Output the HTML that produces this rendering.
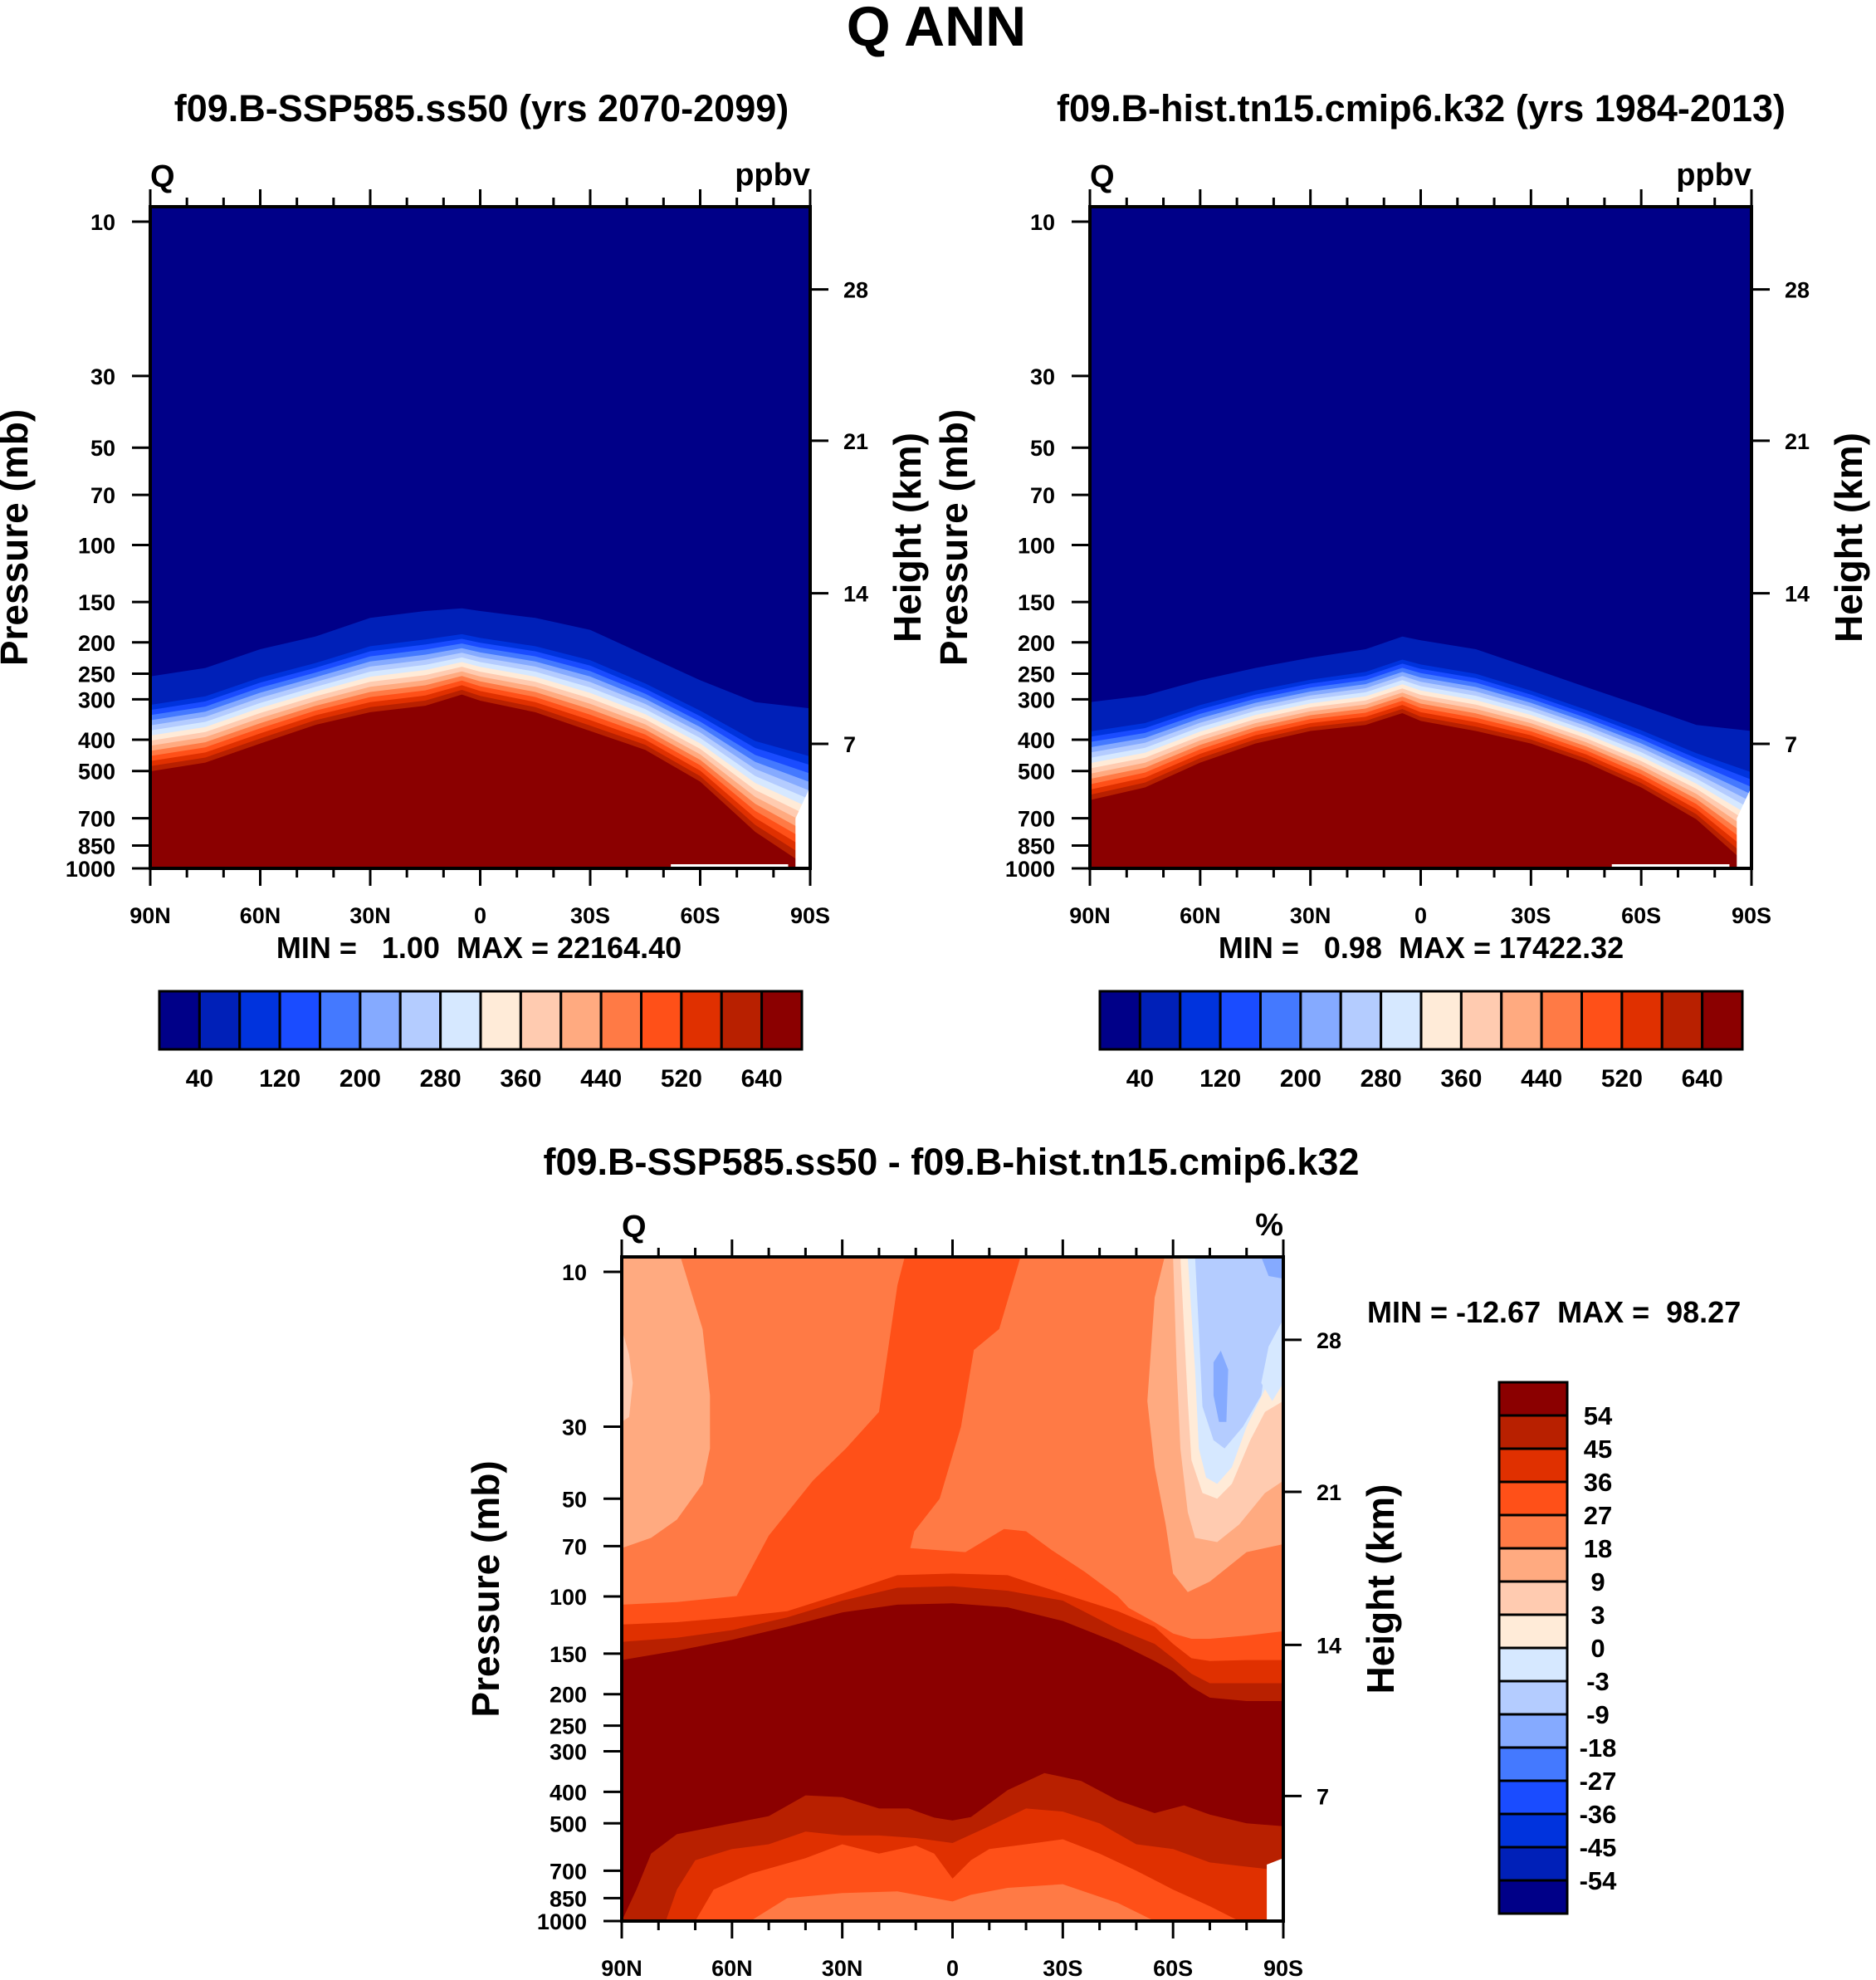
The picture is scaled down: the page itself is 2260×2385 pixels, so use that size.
<!DOCTYPE html>
<html><head><meta charset="utf-8"><style>
html,body{margin:0;padding:0;background:#fff;}
svg{display:block;font-family:"Liberation Sans",sans-serif;font-weight:bold;}
.pre{white-space:pre;}
</style></head><body>
<svg id="root" width="2260" height="2385" viewBox="0 0 2260 2385" xmlns="http://www.w3.org/2000/svg">
<defs>
<clipPath id="clipTL"><rect x="181" y="249" width="795" height="797"/></clipPath>
<clipPath id="clipTR"><rect x="1313" y="249" width="797" height="797"/></clipPath>
<clipPath id="clipB"><rect x="749" y="1514" width="797" height="800"/></clipPath>
</defs>
<text x="1128" y="55" font-size="68" text-anchor="middle">Q ANN</text>
</svg>
<script>
// ---- data ----
const levelColors = ["#000088","#0020b8","#0033dd","#1a4cff","#4479ff","#85aaff","#b4ccff","#d6e8ff","#ffebd8","#ffcbb0","#ffaa80","#ff7a45","#ff5018","#e03000","#b82000","#8b0000"];
const topCbarLabels = ["40","120","200","280","360","440","520","640"];
const diffCbarLabels = ["54","45","36","27","18","9","3","0","-3","-9","-18","-27","-36","-45","-54"];
const pressureTicks = [10,30,50,70,100,150,200,250,300,400,500,700,850,1000];
const heightTickLabels = ["7","14","21","28"];
const heightTickPressures = [412,141,47.6,16.2];
const latTicks = [90,60,30,0,-30,-60,-90];
const latTickLabels = ["90N","60N","30N","0","30S","60S","90S"];
// top panels: lat grid, pressure where the darkest blue ends, and where dark red begins
const lats = [90,75,60,45,30,15,5,0,-15,-30,-45,-60,-75,-90];
const sspNavyBottom = [255,240,210,192,168,160,157,160,168,183,219,262,306,320];
const sspRedTop = [501,471,411,360,329,314,290,303,329,376,430,539,771,1000];
const histNavyBottom = [306,292,262,240,223,210,192,197,210,240,275,314,360,376];
const histRedTop = [615,562,471,411,376,360,331,350,376,411,471,562,705,1000];
// difference panel: layer boundaries [lat, p]
const dLats = [90,75,60,45,30,15,0,-15,-30,-45,-55,-60,-65,-70,-80,-90];
const d13Top = [106,104,100,96,88,77,77,70,88,104,120,130,135,135,132,128];
const d14Top = [122,120,116,111,98,86,85,86,98,111,124,140,155,158,157,157];
const d15Top = [138,134,127,116,103,94,93,96,103,126,140,155,173,185,185,185];
const d16Top = [157,147,136,124,112,106,105,108,119,139,158,170,190,205,210,210];
const d13Column = [[13,9],[-18.5,9],[-12.7,15],[-5.8,17.4],[-2.3,30],[3.5,50],[10.4,63],[11.5,71],[-3.5,73],[-14,62],[-20,63],[-27,72],[-36,84],[-45,100],[-50,115],[-30,112],[20,95],[58.8,100],[50,65],[38,44],[29,35],[20,27],[15,11]];
const d16Bottom = [[90,1000],[86,800],[82,620],[75,540],[60,500],[50,475],[40,410],[30,415],[20,450],[12,450],[5,480],[0,490],[-5,478],[-15,395],[-25,350],[-35,370],[-45,425],[-55,465],[-63,440],[-70,470],[-80,500],[-90,510]];
const d15Bottom = [[78,1000],[75,800],[70,650],[60,600],[50,580],[40,530],[30,545],[20,545],[10,555],[0,575],[-10,510],[-20,450],[-30,460],[-40,500],[-50,580],[-60,600],[-70,660],[-80,680],[-90,700]];
const d14Bottom = [[70,1000],[65,800],[55,715],[40,640],[30,580],[20,620],[10,585],[5,620],[0,740],[-5,650],[-10,600],[-20,580],[-30,560],[-40,620],[-50,700],[-60,800],[-70,900],[-78,1000]];
const d13Bottom = [[55,1000],[45,850],[30,820],[15,810],[5,850],[0,870],[-5,830],[-15,790],[-30,770],[-45,880],[-55,1000]];
const d11Right = [[-57.7,9],[-90,9],[-90,69],[-80,73],[-70,90],[-64,97],[-60,85],[-58,60],[-55,40],[-53,25],[-55,12]];
const d10Right = [[-60,9],[-90,9],[-90,44],[-85,48],[-78,60],[-72,68],[-66,66],[-64,55],[-62,35],[-61,20]];
const d9Right = [[-62,9],[-90,9],[-90,25],[-85,27],[-81,33],[-76,45],[-72,50],[-68,48],[-65,38],[-64,25],[-63,15]];
const d8Right = [[-64,9],[-90,9],[-90,19],[-85,23],[-80,30],[-76,40],[-72,45],[-69,43],[-67,35],[-66,20]];
const d7Right = [[-66,9],[-90,9],[-90,14],[-86,17],[-84,24],[-79,30],[-74,35],[-71,33],[-68,26],[-67,15]];
const d8Patch = [[-90,14],[-86,17],[-84,22],[-87,25],[-90,22]];
const d6Spot = [[-71,19],[-73,17.5],[-75,20],[-74.5,29],[-72.5,29],[-71,24]];
const d6Corner = [[-84,9],[-90,9],[-90,10.5],[-86,10.3]];

const NS = "http://www.w3.org/2000/svg";
const root = document.getElementById("root");
function mk(tag, attrs, parent){ const e=document.createElementNS(NS,tag); for(const k in attrs) e.setAttribute(k,attrs[k]); (parent||root).appendChild(e); return e; }

function makeAxes(x0,x1,yTop,yp10,y1000){
  return {
    x: lat => x0 + (90-lat)/180*(x1-x0),
    y: p => yp10 + (Math.log10(p)-1)/2*(y1000-yp10),
    x0:x0,x1:x1,yTop:yTop,yBot:y1000
  };
}
function ptsStr(ax, pts){ return pts.map(q=>ax.x(q[0]).toFixed(1)+","+ax.y(q[1]).toFixed(1)).join(" "); }

function drawFrame(ax, g, unit, label){
  const f = mk("rect",{x:ax.x0,y:ax.yTop,width:ax.x1-ax.x0,height:ax.yBot-ax.yTop,fill:"none",stroke:"#000","stroke-width":4},g);
  
  
  for(let lat=90; lat>=-90; lat-=10){
    const major = (lat%30===0);
    const xx = ax.x(lat);
    const tt = mk("line",{x1:xx,x2:xx,y1:ax.yTop,y2:ax.yTop-(major?21:11),stroke:"#000","stroke-width":3},g);
    
    
    const tb = mk("line",{x1:xx,x2:xx,y1:ax.yBot,y2:ax.yBot+(major?21:11),stroke:"#000","stroke-width":3},g);
    
    
  }
  latTicks.forEach((lat,i)=>{
    const t = mk("text",{x:ax.x(lat),y:ax.yBot+66,"font-size":27,"text-anchor":"middle"},g);
    t.textContent = latTickLabels[i];
    
    
  });
  pressureTicks.forEach(p=>{
    const yy = ax.y(p);
    const l = mk("line",{x1:ax.x0,x2:ax.x0-22,y1:yy,y2:yy,stroke:"#000","stroke-width":3},g);
    
    
    const t = mk("text",{x:ax.x0-42,y:yy+10,"font-size":27,"text-anchor":"end"},g);
    t.textContent = String(p);
    
    
  });
  heightTickPressures.forEach((p,i)=>{
    const yy = ax.y(p);
    const l = mk("line",{x1:ax.x1,x2:ax.x1+22,y1:yy,y2:yy,stroke:"#000","stroke-width":3},g);
    
    
    const t = mk("text",{x:ax.x1+40,y:yy+10,"font-size":27},g);
    t.textContent = heightTickLabels[i];
    
    
  });
  const q = mk("text",{x:ax.x0,y:ax.yTop-24,"font-size":38},g);
  q.textContent = label;
  
  
  const u = mk("text",{x:ax.x1,y:ax.yTop-26,"font-size":38,"text-anchor":"end"},g);
  u.textContent = unit;
  
  
  const yc = (ax.yTop+ax.yBot)/2;
  const pl = mk("text",{x:0,y:0,"font-size":46,"text-anchor":"middle",transform:`translate(${ax.x0-148},${yc}) rotate(-90)`},g);
  pl.textContent = "Pressure (mb)";
  
  
  const hl = mk("text",{x:0,y:0,"font-size":46,"text-anchor":"middle",transform:`translate(${ax.x1+133},${yc}) rotate(-90)`},g);
  hl.textContent = "Height (km)";
  
  
}

function drawTopPanel(ax, clipId, navyBottom, redTop, name){
  const g = mk("g",{"clip-path":`url(#${clipId})`});
  
  
  const bg = mk("rect",{x:ax.x0,y:ax.yTop-5,width:ax.x1-ax.x0,height:ax.yBot-ax.yTop+10,fill:levelColors[0]},g);
  
  
  for(let k=1;k<=15;k++){
    const f = k===1?0:0.3+(k-2)/13*0.7;
    const pts = lats.map((lat,i)=>{
      const a=Math.log10(navyBottom[i]), b=Math.log10(redTop[i]);
      return [lat, Math.pow(10, a+f*(b-a))];
    });
    pts.push([-90,1000],[90,1000]);
    const poly = mk("polygon",{points:ptsStr(ax,pts),fill:levelColors[k]},g);
    
    
  }
  const miss = mk("polygon",{points:ptsStr(ax,[[-86,700],[-90,560],[-90,1000],[-86,1000]]),fill:"#fff"},g);
  
  
  const strip = mk("rect",{x:ax.x(-52),y:ax.yBot-5,width:ax.x(-84)-ax.x(-52),height:5,fill:"#fff"},g);
  
  
}

function drawCbarH(x0,x1,y0,y1,name){
  const g = mk("g",{});
  
  
  const w=(x1-x0)/16;
  levelColors.forEach((c,i)=>{
    const r = mk("rect",{x:x0+i*w,y:y0,width:w,height:y1-y0,fill:c,stroke:"#000","stroke-width":3},g);
    
    
  });
  topCbarLabels.forEach((s,i)=>{
    const t = mk("text",{x:x0+(2*i+1)*w,y:y1+45,"font-size":30,"text-anchor":"middle"},g);
    t.textContent = s;
    
    
  });
}

function text(x,y,s,size,name,anchor){
  const t = mk("text",{x:x,y:y,"font-size":size,"text-anchor":anchor||"middle"});
  t.textContent = s;
  
  
  return t;
}

// --- top-left
const axTL = makeAxes(181,976,249,267,1046);
drawTopPanel(axTL,"clipTL",sspNavyBottom,sspRedTop,"ssp585");
const gTL = mk("g",{});  
drawFrame(axTL,gTL,"ppbv","Q");
text(580,146,"f09.B-SSP585.ss50 (yrs 2070-2099)",45,"ssp585-panel-title");
text(577,1154,"MIN =   1.00  MAX = 22164.40",36,"ssp585-min-max").setAttribute("class","pre");
drawCbarH(192,966,1194,1264,"ssp585-colorbar");

// --- top-right
const axTR = makeAxes(1313,2110,249,267,1046);
drawTopPanel(axTR,"clipTR",histNavyBottom,histRedTop,"hist");
const gTR = mk("g",{});  
drawFrame(axTR,gTR,"ppbv","Q");
text(1712,146,"f09.B-hist.tn15.cmip6.k32 (yrs 1984-2013)",45,"hist-panel-title");
text(1712,1154,"MIN =   0.98  MAX = 17422.32",36,"hist-min-max").setAttribute("class","pre");
drawCbarH(1325,2099,1194,1264,"hist-colorbar");

// --- bottom diff
const axB = makeAxes(749,1546,1514,1532,2314);
const gB = mk("g",{"clip-path":"url(#clipB)"});


const bgB = mk("rect",{x:749,y:1505,width:800,height:820,fill:levelColors[11]},gB);


function fillPoly(pts,color,name){
  const p = mk("polygon",{points:ptsStr(axB,pts),fill:color},gB);
  
  
}
function topCurve(arr){ const pts=dLats.map((l,i)=>[l,arr[i]]); pts.push([-90,1000],[90,1000]); return pts; }
function lowCurve(arr){ const pts=arr.slice(); pts.push([arr[arr.length-1][0],1000],[arr[0][0],1000]); return pts; }
fillPoly([[90,9],[74,9],[68,15],[66,24],[66,35],[68,45],[75,58],[82,66],[90,71]],levelColors[10],"diff-band-9-18-left");
fillPoly([[90,15],[88,18],[87,22],[88,28],[90,29]],levelColors[9],"diff-band-3-9-left");
fillPoly(d11Right,levelColors[10],"diff-band-9-18-right");
fillPoly(d10Right,levelColors[9],"diff-band-3-9-right");
fillPoly(d9Right,levelColors[8],"diff-band-0-3-right");
fillPoly(d8Right,levelColors[7],"diff-band-m3-0-right");
fillPoly(d7Right,levelColors[6],"diff-band-m9-m3-right");
fillPoly(d8Patch,levelColors[7],"diff-band-m3-0-patch");
fillPoly(d6Spot,levelColors[5],"diff-band-m18-m9-spot");
fillPoly(d6Corner,levelColors[5],"diff-band-m18-m9-corner");
fillPoly(d13Column,levelColors[12],"diff-band-27-36-column");
fillPoly(topCurve(d13Top),levelColors[12],"diff-band-27-36");
fillPoly(topCurve(d14Top),levelColors[13],"diff-band-36-45");
fillPoly(topCurve(d15Top),levelColors[14],"diff-band-45-54");
fillPoly(topCurve(d16Top),levelColors[15],"diff-band-above-54");
fillPoly(lowCurve(d16Bottom),levelColors[14],"diff-band-45-54-lower");
fillPoly(lowCurve(d15Bottom),levelColors[13],"diff-band-36-45-lower");
fillPoly(lowCurve(d14Bottom),levelColors[12],"diff-band-27-36-lower");
fillPoly(lowCurve(d13Bottom),levelColors[11],"diff-band-18-27-lower");
fillPoly([[-85.5,670],[-90,640],[-90,1000],[-85.5,1000]],"#ffffff","diff-missing-data");
const gBA = mk("g",{});  
drawFrame(axB,gBA,"%","Q");
text(1146,1415,"f09.B-SSP585.ss50 - f09.B-hist.tn15.cmip6.k32",45,"difference-panel-title");
text(1647,1593,"MIN = -12.67  MAX =  98.27",36,"difference-min-max","start").setAttribute("class","pre");
// vertical colorbar
const gVC = mk("g",{});  
const vx0=1806, vx1=1888, vy0=1665, vh=40;
levelColors.slice().reverse().forEach((c,i)=>{
  const r = mk("rect",{x:vx0,y:vy0+i*vh,width:vx1-vx0,height:vh,fill:c,stroke:"#000","stroke-width":3},gVC);
  
  
});
diffCbarLabels.forEach((s,i)=>{
  const t = mk("text",{x:1925,y:vy0+(i+1)*vh+11,"font-size":31,"text-anchor":"middle"},gVC);
  t.textContent = s;
  
  
});
</script>
</body></html>
